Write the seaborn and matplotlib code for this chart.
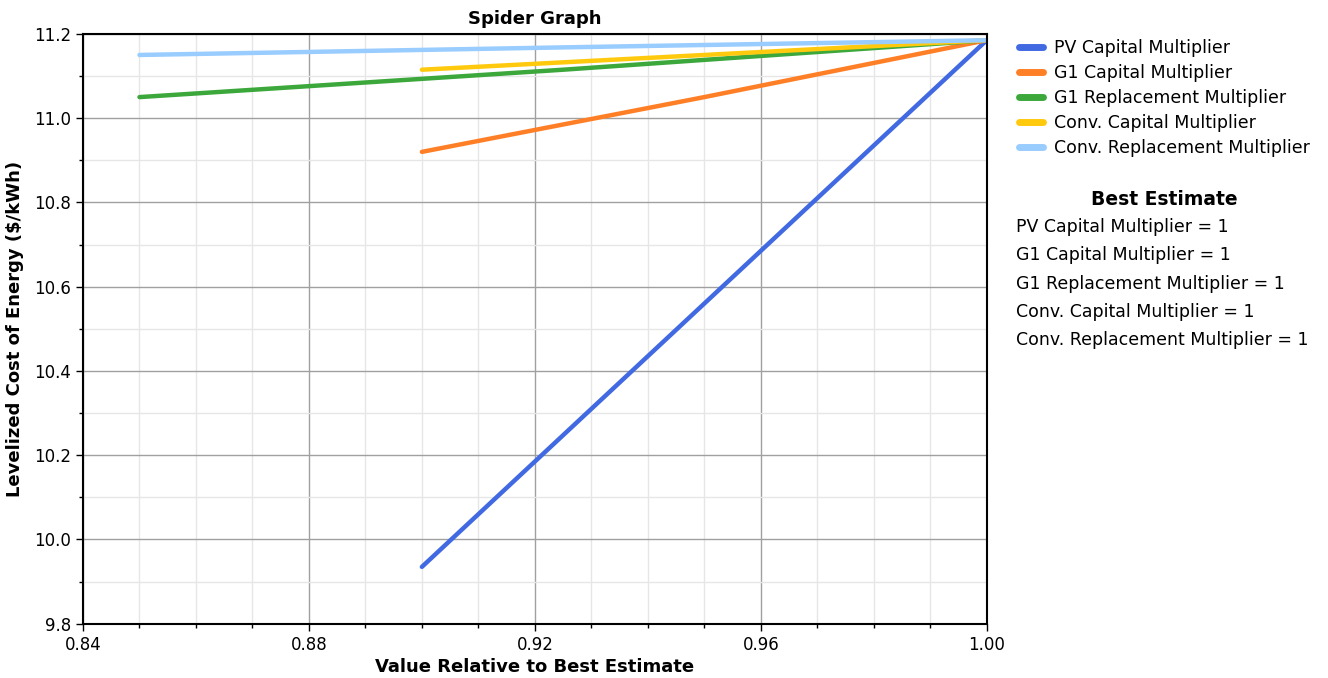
import pandas as pd
import matplotlib.pyplot as plt
import seaborn as sns
from matplotlib.ticker import MultipleLocator

# values
series_names = ['PV Capital Multiplier', 'G1 Capital Multiplier', 'G1 Replacement Multiplier',
                'Conv. Capital Multiplier', 'Conv. Replacement Multiplier']
x_short = [0.90, 0.95, 1.00]
x_long = [0.85, 0.925, 1.00]
pv_capital = [9.935, 10.56, 11.185]
g1_capital = [10.92, 11.05, 11.185]
g1_replacement = [11.05, 11.115, 11.185]
conv_capital = [11.115, 11.15, 11.185]
conv_replacement = [11.15, 11.168, 11.185]
best_estimate = [1, 1, 1, 1, 1]
colors = ['#4169E1', '#FF7F27', '#3CA83C', '#FFC90E', '#99CCFF']

rows = []
for name, xs, ys in zip(series_names,
                        [x_short, x_short, x_long, x_short, x_long],
                        [pv_capital, g1_capital, g1_replacement, conv_capital, conv_replacement]):
    for xv, yv in zip(xs, ys):
        rows.append({'x': xv, 'y': yv, 'series': name})
df = pd.DataFrame(rows)

sns.set_style('white')
plt.rcParams['font.family'] = ['DejaVu Sans']
plt.rcParams['text.color'] = 'black'
plt.rcParams['axes.labelcolor'] = 'black'
plt.rcParams['xtick.color'] = 'black'
plt.rcParams['ytick.color'] = 'black'

fig = plt.figure(figsize=(13.28, 6.78), dpi=100)
ax = fig.add_axes([0.0625, 0.080, 0.6805, 0.870])

sns.lineplot(data=df, x='x', y='y', hue='series', hue_order=series_names,
             palette=colors, linewidth=3.2, ax=ax, legend=False, sort=False)

ax.set_xlim(0.84, 1.00)
ax.set_ylim(9.8, 11.2)
ax.xaxis.set_major_locator(MultipleLocator(0.04))
ax.xaxis.set_minor_locator(MultipleLocator(0.01))
ax.yaxis.set_major_locator(MultipleLocator(0.2))
ax.yaxis.set_minor_locator(MultipleLocator(0.1))
ax.xaxis.set_major_formatter(plt.FormatStrFormatter('%.2f'))
ax.yaxis.set_major_formatter(plt.FormatStrFormatter('%.1f'))
ax.grid(which='major', color='#A0A0A0', linewidth=1.0)
ax.grid(which='minor', color='#E6E6E6', linewidth=1.0)
ax.set_axisbelow(True)
for s in ax.spines.values():
    s.set_color('black')
    s.set_linewidth(1.5)
ax.tick_params(which='major', direction='out', length=5, width=1, labelsize=12,
               bottom=True, left=True)
ax.tick_params(which='minor', direction='out', length=3, width=1, bottom=True, left=True)

ax.set_title('Spider Graph', fontsize=13, fontweight='bold', pad=7)
ax.set_xlabel('Value Relative to Best Estimate', fontsize=13, fontweight='bold', labelpad=3)
ax.set_ylabel('Levelized Cost of Energy ($/kWh)', fontsize=13, fontweight='bold', labelpad=7)

handles = [plt.Line2D([], [], color=c, linewidth=5) for c in colors]
fig.legend(handles, series_names, loc='upper left', bbox_to_anchor=(0.762, 0.953),
           frameon=False, fontsize=12.5, handlelength=1.4, handletextpad=0.6,
           labelspacing=0.4, borderaxespad=0)

fig.text(0.877, 0.706, 'Best Estimate', fontsize=13.5, fontweight='bold', ha='center', va='center')
for i, (name, val) in enumerate(zip(series_names, best_estimate)):
    fig.text(0.765, 0.665 - i * 0.0418, f'{name} = {val}', fontsize=12.5, ha='left', va='center')

fig.savefig('out.png', dpi=100)
